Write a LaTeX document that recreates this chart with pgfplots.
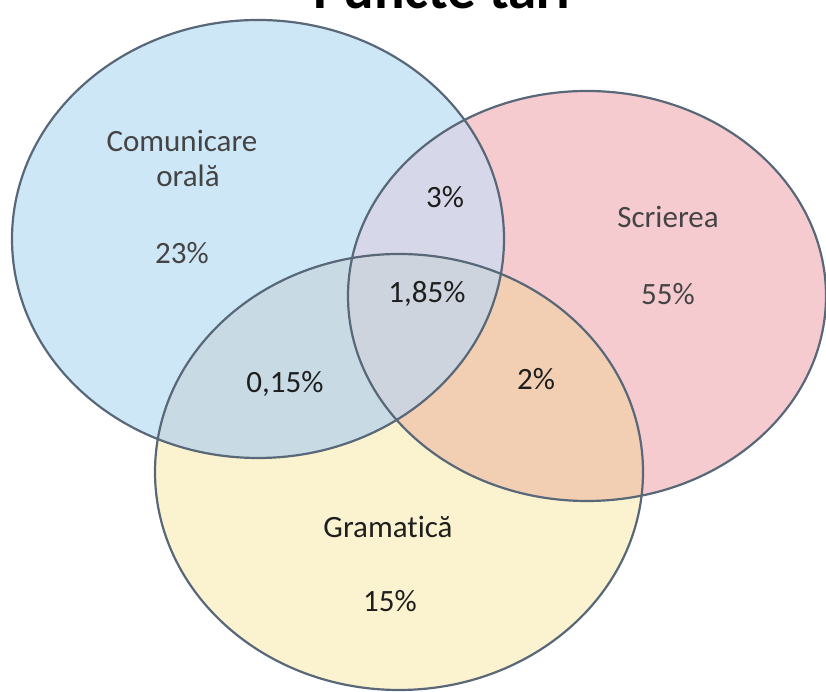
\documentclass[border=0pt]{standalone}
\usepackage{pgfplots}
\pgfplotsset{compat=1.18}
\usepackage{fontspec}
\setmainfont{Carlito}[Ligatures=NoCommon]
\definecolor{cB}{RGB}{206,231,247}
\definecolor{cP}{RGB}{246,203,208}
\definecolor{cY}{RGB}{251,243,208}
\definecolor{cBP}{RGB}{214,215,232}
\definecolor{cPY}{RGB}{242,206,178}
\definecolor{cBY}{RGB}{200,218,228}
\definecolor{cBPY}{RGB}{205,212,222}
\definecolor{edge}{RGB}{88,104,120}
\definecolor{lgray}{RGB}{68,68,68}
\definecolor{ldark}{RGB}{30,30,30}
\begin{document}
\begin{tikzpicture}[x=1pt,y=1pt]
\useasboundingbox (0,0) rectangle (826,692);
\clip (0,0) rectangle (826,692);
\begin{axis}[at={(0,0)}, anchor=south west, scale only axis,
  width=826pt, height=692pt, xmin=0, xmax=826, ymin=0, ymax=692,
  hide axis, clip=false]
% base fills
\fill[cB] (axis cs:258,453) ellipse [x radius=246, y radius=219];
\fill[cP] (axis cs:587,396) ellipse [x radius=239, y radius=205];
\fill[cY] (axis cs:399,220) ellipse [x radius=244, y radius=218];
% pairwise
\begin{scope}
\clip (axis cs:258,453) ellipse [x radius=246, y radius=219];
\fill[cBP] (axis cs:587,396) ellipse [x radius=239, y radius=205];
\end{scope}
\begin{scope}
\clip (axis cs:258,453) ellipse [x radius=246, y radius=219];
\fill[cBY] (axis cs:399,220) ellipse [x radius=244, y radius=218];
\end{scope}
\begin{scope}
\clip (axis cs:587,396) ellipse [x radius=239, y radius=205];
\fill[cPY] (axis cs:399,220) ellipse [x radius=244, y radius=218];
\end{scope}
\begin{scope}
\clip (axis cs:258,453) ellipse [x radius=246, y radius=219];
\clip (axis cs:587,396) ellipse [x radius=239, y radius=205];
\fill[cBPY] (axis cs:399,220) ellipse [x radius=244, y radius=218];
\end{scope}
% outlines
\draw[edge, line width=2.2pt] (axis cs:258,453) ellipse [x radius=246, y radius=219];
\draw[edge, line width=2.2pt] (axis cs:587,396) ellipse [x radius=239, y radius=205];
\draw[edge, line width=2.2pt] (axis cs:399,220) ellipse [x radius=244, y radius=218];
% labels
\addplot[draw=none, mark=none, nodes near coords, point meta=explicit symbolic,
  every node near coord/.append style={anchor=base, inner sep=0pt, text=lgray,
  font=\fontsize{31}{34}\selectfont}]
  table[meta=label] {
x y label
182 540 Comunicare
188 505 orală
182 428 23\%
668 464 Scrierea
668 387 55\%
};
\addplot[draw=none, mark=none, nodes near coords, point meta=explicit symbolic,
  every node near coord/.append style={anchor=base, inner sep=0pt, text=ldark,
  font=\fontsize{31}{34}\selectfont}]
  table[meta=label] {
x y label
445 484 3\%
427 389 1,85\%
285 299 0,15\%
536 302 2\%
388 154 Gramatică
390 80 15\%
};
\end{axis}
\node[anchor=base, inner sep=0pt, text=black, font=\bfseries\fontsize{57}{60}\selectfont] at (442,683) {Puncte tari};
\end{tikzpicture}
\end{document}
